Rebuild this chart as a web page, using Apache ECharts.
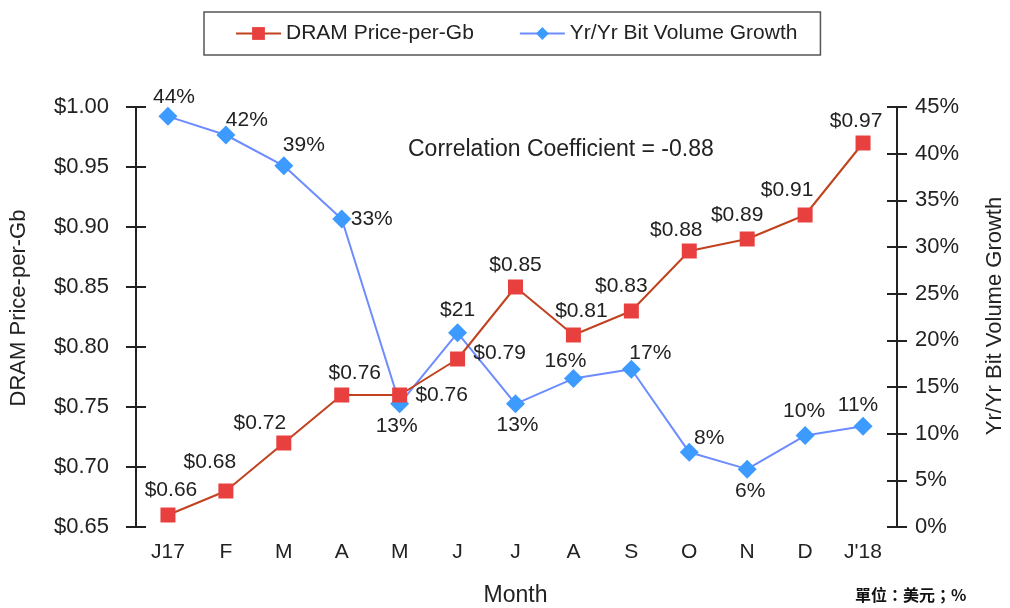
<!DOCTYPE html>
<html>
<head>
<meta charset="utf-8">
<script src="https://cdn.jsdelivr.net/npm/echarts@6/dist/echarts.min.js"></script>
<style>
  html, body { margin: 0; padding: 0; background: #fff; }
  #main { width: 1010px; height: 608px; }
</style>
</head>
<body>
<div id="main"></div>
<script>
const months = ['J17', 'F', 'M', 'A', 'M', 'J', 'J', 'A', 'S', 'O', 'N', 'D', "J'18"]
const priceData = [0.66, 0.68, 0.72, 0.76, 0.76, 0.79, 0.85, 0.81, 0.83, 0.88, 0.89, 0.91, 0.97]
const priceLabels = ['$0.66', '$0.68', '$0.72', '$0.76', '$0.76', '$0.79', '$0.85', '$0.81', '$0.83', '$0.88', '$0.89', '$0.91', '$0.97']
const growthData = [44, 42, 38.7, 33, 13.2, 20.8, 13.2, 15.9, 16.9, 8, 6.2, 9.8, 10.8]
const growthLabels = ['44%', '42%', '39%', '33%', '13%', '$21', '13%', '16%', '17%', '8%', '6%', '10%', '11%']
const priceTicks = [0.65, 0.70, 0.75, 0.80, 0.85, 0.90, 0.95, 1.00]
const growthTicks = [0, 5, 10, 15, 20, 25, 30, 35, 40, 45]

// label centre relative to the point centre
const priceLabelOffset = [
  [3, -25], [-16, -29], [-24, -20], [13, -22], [42, 0], [42, -6], [0, -22],
  [8, -24], [-10, -25], [-13, -21], [-10, -24], [-18, -25], [-7, -22]
]
const growthLabelOffset = [
  [6, -19], [21, -15], [20, -21], [30, 0], [-3, 22], [0, -23], [2, 21],
  [-8, -17], [19, -16], [20, -14], [3, 22], [-1, -24], [-5, -21]
]

const chart = echarts.init(document.getElementById('main'))
const font = 'Liberation Sans, Arial, sans-serif'
const axisColor = '#222'
const tickStyle = { color: axisColor, width: 2 }

function tickHelper (position, offset, min, max, interval) {
  return {
    type: 'value', position: position, offset: offset, min: min, max: max, interval: interval,
    axisLine: { show: false },
    axisTick: { show: true, inside: true, length: 10, lineStyle: tickStyle },
    axisLabel: { show: false },
    splitLine: { show: false }
  }
}

const option = {
  backgroundColor: '#fff',
  textStyle: { fontFamily: font },
  legend: {
    left: 204,
    top: 12,
    padding: [11, 23, 11, 31],
    borderColor: '#555',
    borderWidth: 1.5,
    itemWidth: 45,
    itemHeight: 16,
    itemGap: 45,
    textStyle: { fontSize: 21, color: '#222', fontFamily: font },
    data: ['DRAM Price-per-Gb', 'Yr/Yr Bit Volume Growth']
  },
  grid: { left: 139, right: 118, top: 107, bottom: 81, outerBoundsMode: 'none' },
  xAxis: {
    type: 'category',
    data: months,
    name: 'Month',
    nameLocation: 'middle',
    nameGap: 57,
    nameTextStyle: { fontSize: 23, color: '#222' },
    axisLine: { show: false },
    axisTick: { show: false },
    axisLabel: { fontSize: 21, color: '#222', margin: 15 }
  },
  yAxis: [
    {
      type: 'value',
      position: 'left',
      offset: 3,
      min: priceTicks[0],
      max: priceTicks[priceTicks.length - 1],
      interval: 0.05,
      axisLine: { show: true, lineStyle: tickStyle },
      axisTick: { show: true, length: 10, lineStyle: tickStyle },
      axisLabel: { fontSize: 22, color: '#222', margin: 27, formatter: v => '$' + v.toFixed(2) },
      splitLine: { show: false }
    },
    {
      type: 'value',
      position: 'right',
      offset: 5,
      min: growthTicks[0],
      max: growthTicks[growthTicks.length - 1],
      interval: 5,
      axisLine: { show: true, lineStyle: tickStyle },
      axisTick: { show: true, length: 10, lineStyle: tickStyle },
      axisLabel: { fontSize: 22, color: '#222', margin: 18, formatter: v => v + '%' },
      splitLine: { show: false }
    },
    // inner halves of the ticks that cross the axis lines
    tickHelper('left', 3, 0.65, 1.0, 0.05),
    tickHelper('right', 5, 0, 45, 5)
  ],
  series: [
    {
      name: 'DRAM Price-per-Gb',
      type: 'line',
      yAxisIndex: 0,
      symbol: 'rect',
      symbolSize: 15,
      z: 3,
      lineStyle: { color: '#c0421f', width: 2 },
      itemStyle: { color: '#e8403f', borderWidth: 0 },
      data: priceData.map((v, i) => ({
        value: v,
        label: {
          show: true,
          position: 'inside',
          offset: priceLabelOffset[i],
          formatter: priceLabels[i],
          fontSize: 21,
          color: '#222'
        }
      }))
    },
    {
      name: 'Yr/Yr Bit Volume Growth',
      type: 'line',
      yAxisIndex: 1,
      symbol: 'diamond',
      symbolSize: 19,
      z: 2,
      lineStyle: { color: '#6c8cff', width: 2 },
      itemStyle: { color: '#3d9bff', borderWidth: 0 },
      data: growthData.map((v, i) => ({
        value: v,
        label: {
          show: true,
          position: 'inside',
          offset: growthLabelOffset[i],
          formatter: growthLabels[i],
          fontSize: 21,
          color: '#222'
        }
      }))
    }
  ],
  graphic: [
    {
      type: 'text',
      x: 19,
      y: 308,
      rotation: Math.PI / 2,
      style: { text: 'DRAM Price-per-Gb', fontSize: 22, fill: '#222', fontFamily: font, align: 'center', verticalAlign: 'middle' }
    },
    {
      type: 'text',
      x: 995,
      y: 316,
      rotation: Math.PI / 2,
      style: { text: 'Yr/Yr Bit Volume Growth', fontSize: 22, fill: '#222', fontFamily: font, align: 'center', verticalAlign: 'middle' }
    },
    {
      type: 'text',
      x: 408,
      y: 150,
      style: { text: 'Correlation Coefficient = -0.88', fontSize: 23, fill: '#222', fontFamily: font, verticalAlign: 'middle' }
    },
    {
      type: 'text',
      x: 855,
      y: 595,
      style: { text: '單位：美元；%', fontSize: 16, fontWeight: 'bold', fill: '#111', fontFamily: 'Noto Sans CJK TC', verticalAlign: 'middle' }
    }
  ]
}

chart.setOption(option)
</script>
</body>
</html>
